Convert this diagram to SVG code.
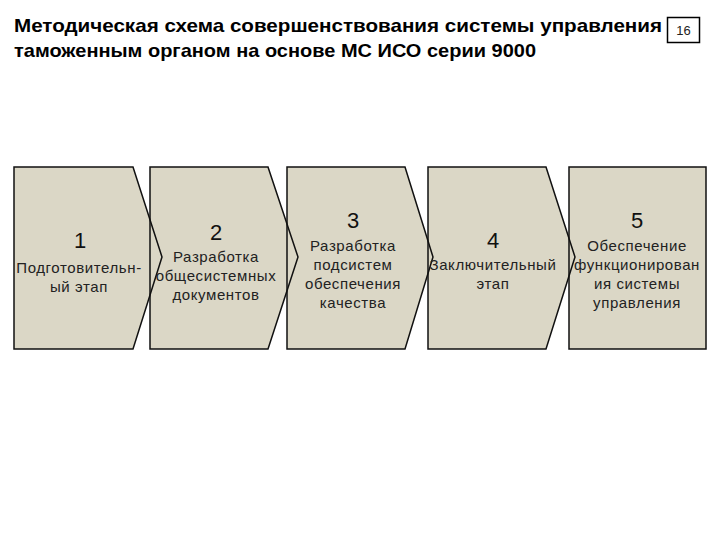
<svg xmlns="http://www.w3.org/2000/svg" width="720" height="540" viewBox="0 0 720 540">
<style>
.title{font-family:"Liberation Sans",Arial,sans-serif;font-weight:bold;font-size:19px;fill:#000}
.fill{fill:#dbd7c6;stroke:none}
.edge{fill:none;stroke:#111;stroke-width:1.5;stroke-linejoin:miter}
.num{font-family:"Liberation Sans",Arial,sans-serif;font-size:22px;fill:#111;text-anchor:middle}
.lbl{font-family:"Liberation Sans",Arial,sans-serif;font-size:15px;letter-spacing:0.6px;fill:#222;text-anchor:middle}
</style>
<rect width="720" height="540" fill="#fff"/>
<text class="title" x="14" y="32" textLength="648" lengthAdjust="spacingAndGlyphs">Методическая схема совершенствования системы управления</text>
<text class="title" x="14" y="57" textLength="522" lengthAdjust="spacingAndGlyphs">таможенным органом на основе МС ИСО серии 9000</text>
<g id="page">
<rect x="667.5" y="17.5" width="32" height="25" fill="#fff" stroke="#000" stroke-width="1.5"/>
<text x="683.5" y="35" font-family="Liberation Sans, Arial, sans-serif" font-size="13" text-anchor="middle" fill="#222">16</text>
</g>
<g id="fills">
<polygon class="fill" points="14,167 133,167 162,257 133,349 14,349"/>
<polygon class="fill" points="150,167 268,167 298,257 268,349 150,349"/>
<polygon class="fill" points="287,167 405,167 433,257 405,349 287,349"/>
<polygon class="fill" points="428,167 546,167 575,257 546,349 428,349"/>
<polygon class="fill" points="569,167 706,167 706,349 569,349"/>
</g>
<g id="step1">
<polygon class="edge" points="14,167 133,167 162,257 133,349 14,349"/>
<text class="num" x="80" y="248">1</text>
<text class="lbl" x="79" y="273">Подготовительн-</text>
<text class="lbl" x="79" y="292">ый этап</text>
</g>
<g id="step2">
<polygon class="edge" points="150,167 268,167 298,257 268,349 150,349"/>
<text class="num" x="216" y="240">2</text>
<text class="lbl" x="216" y="262">Разработка</text>
<text class="lbl" x="216" y="281">общесистемных</text>
<text class="lbl" x="216" y="300">документов</text>
</g>
<g id="step3">
<polygon class="edge" points="287,167 405,167 433,257 405,349 287,349"/>
<text class="num" x="353" y="228">3</text>
<text class="lbl" x="353" y="251">Разработка</text>
<text class="lbl" x="353" y="270">подсистем</text>
<text class="lbl" x="353" y="289">обеспечения</text>
<text class="lbl" x="353" y="308">качества</text>
</g>
<g id="step4">
<polygon class="edge" points="428,167 546,167 575,257 546,349 428,349"/>
<text class="num" x="493" y="248">4</text>
<text class="lbl" x="493" y="270">Заключительный</text>
<text class="lbl" x="493" y="289">этап</text>
</g>
<g id="step5">
<polygon class="edge" points="569,167 706,167 706,349 569,349"/>
<text class="num" x="637" y="228">5</text>
<text class="lbl" x="637" y="251">Обеспечение</text>
<text class="lbl" x="637" y="270">функционирован</text>
<text class="lbl" x="637" y="289">ия системы</text>
<text class="lbl" x="637" y="308">управления</text>
</g>
<g id="connectors"></g>
</svg>
